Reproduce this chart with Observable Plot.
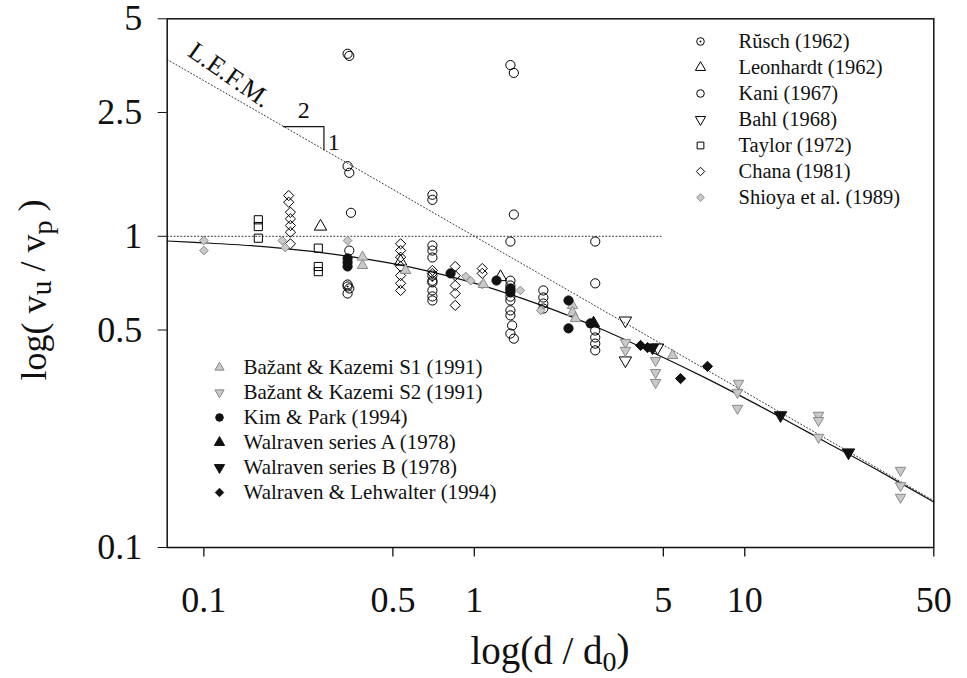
<!DOCTYPE html>
<html><head><meta charset="utf-8">
<script src="https://cdn.jsdelivr.net/npm/d3@7"></script>
<script src="https://cdn.jsdelivr.net/npm/@observablehq/plot@0.6"></script>
<style>body{margin:0;background:#fff} #chart{position:relative;width:967px;height:678px}</style>
</head><body><div id="chart"></div>
<script>
// ---------- axis ticks ----------
const xTicks = [0.1, 0.5, 1, 5, 10, 50];
const yTicks = [0.1, 0.5, 1, 2.5, 5];
const xDomain = [0.0732, 50];
const yDomain = [0.1, 5];

// ---------- size effect law (solid curve) ----------
const lawX = [0.0732, 0.1, 0.15, 0.2, 0.3, 0.5, 0.7, 1, 1.5, 2, 3, 5, 7, 10, 15, 20, 30, 50];
const lawY = [0.966, 0.953, 0.933, 0.913, 0.877, 0.817, 0.767, 0.707, 0.632, 0.577, 0.5, 0.408, 0.354, 0.302, 0.25, 0.218, 0.180, 0.140];
// L.E.F.M. asymptote (dotted) and strength asymptote (dotted)
const lefmX = [0.0732, 50];
const lefmY = [3.70, 0.1414];
const flatX = [0.0732, 5];
const flatY = [1, 1];
// slope triangle 2:1
const triX = [0.197, 0.278, 0.278];
const triY = [2.253, 2.253, 1.897];

// ---------- data series ----------
const ruschX = [0.34, 0.70];
const ruschY = [0.69, 0.72];

const leonX = [0.27, 0.534, 1.25];
const leonY = [1.075, 0.83, 0.74];

const kaniX = [0.34, 0.345, 0.34, 0.345, 0.35, 0.345, 0.34, 0.345, 0.34,
  0.70, 0.70, 0.70, 0.70, 0.70, 0.70, 0.70, 0.70, 0.70, 0.70,
  1.36, 1.40, 1.40, 1.36, 1.36, 1.36, 1.36, 1.36, 1.36, 1.36, 1.36, 1.38, 1.36, 1.40,
  1.80, 1.80, 1.80, 1.80,
  2.80, 2.80, 2.80, 2.80, 2.80, 2.80];
const kaniY = [3.86, 3.80, 1.68, 1.60, 1.19, 0.90, 0.70, 0.68, 0.655,
  1.36, 1.31, 0.934, 0.90, 0.855, 0.748, 0.711, 0.67, 0.641, 0.622,
  3.55, 3.35, 1.175, 0.962, 0.72, 0.695, 0.67, 0.64, 0.622, 0.578, 0.557, 0.517, 0.487, 0.469,
  0.67, 0.636, 0.608, 0.586,
  0.962, 0.706, 0.498, 0.473, 0.452, 0.430];

const bahlX = [3.62, 3.62, 4.76];
const bahlY = [0.536, 0.399, 0.439];

const taylorX = [0.159, 0.159, 0.159, 0.265, 0.265, 0.265];
const taylorY = [1.13, 1.075, 0.986, 0.916, 0.80, 0.77];

const chanaX = [0.206, 0.206, 0.209, 0.209, 0.209, 0.209, 0.209,
  0.534, 0.534, 0.534, 0.534, 0.534, 0.534, 0.534,
  0.70, 0.70,
  0.85, 0.85, 0.85, 0.85, 0.85,
  1.07, 1.07];
const chanaY = [1.352, 1.287, 1.195, 1.138, 1.083, 1.031, 0.946,
  0.946, 0.90, 0.857, 0.80, 0.748, 0.706, 0.67,
  0.777, 0.76,
  0.80, 0.748, 0.695, 0.655, 0.60,
  0.788, 0.76];

const shioyaX = [0.1, 0.1, 0.195, 0.20, 0.34, 0.93, 0.97, 1.07, 1.48, 1.76];
const shioyaY = [0.969, 0.90, 0.969, 0.92, 0.969, 0.743, 0.72, 0.70, 0.67, 0.578];

const bk1X = [0.386, 0.386, 0.557, 1.08, 2.307, 2.307, 2.366, 5.41];
const bk1Y = [0.857, 0.806, 0.777, 0.70, 0.599, 0.569, 0.544, 0.414];

const bk2X = [3.62, 3.62, 4.68, 4.68, 4.68, 9.48, 9.40, 9.40, 18.74, 18.74, 18.74, 37.66, 37.66, 37.66];
const bk2Y = [0.456, 0.43, 0.399, 0.365, 0.339, 0.337, 0.315, 0.28, 0.266, 0.256, 0.226, 0.177, 0.158, 0.145];

const kimX = [0.34, 0.34, 0.34, 0.817, 1.208, 1.36, 1.36, 2.23, 2.23, 2.69];
const kimY = [0.849, 0.824, 0.80, 0.76, 0.721, 0.68, 0.66, 0.622, 0.506, 0.525];

const walAX = [2.76];
const walAY = [0.525];

const walBX = [4.56, 13.56, 24.19];
const walBY = [0.439, 0.266, 0.202];

const wlX = [4.12, 4.37, 5.79, 7.28];
const wlY = [0.446, 0.439, 0.349, 0.382];

// ---------- symbols ----------
const triangleDown = {
  draw(ctx, size) {
    const s3 = Math.sqrt(3);
    const y = -Math.sqrt(size / (s3 * 3));
    ctx.moveTo(0, -y * 2);
    ctx.lineTo(-s3 * y, y);
    ctx.lineTo(s3 * y, y);
    ctx.closePath();
  }
};
const TICK_LEN = 9;
const downTick = {draw(ctx) { ctx.moveTo(0, 0); ctx.lineTo(0, TICK_LEN); }};

const GREY_F = "#c9c9c9", GREY_S = "#8a8a8a";
const series = [
  {name: "Rŭsch (1962)", xs: ruschX, ys: ruschY, symbol: "circle", fill: "none", stroke: "black", dot: true, leg: "top"},
  {name: "Leonhardt (1962)", xs: leonX, ys: leonY, symbol: "triangle", fill: "none", stroke: "black", leg: "top"},
  {name: "Kani (1967)", xs: kaniX, ys: kaniY, symbol: "circle", fill: "none", stroke: "black", leg: "top"},
  {name: "Bahl (1968)", xs: bahlX, ys: bahlY, symbol: triangleDown, fill: "none", stroke: "black", leg: "top"},
  {name: "Taylor (1972)", xs: taylorX, ys: taylorY, symbol: "square", fill: "none", stroke: "black", leg: "top"},
  {name: "Chana (1981)", xs: chanaX, ys: chanaY, symbol: "diamond2", fill: "none", stroke: "black", leg: "top"},
  {name: "Shioya et al. (1989)", xs: shioyaX, ys: shioyaY, symbol: "diamond2", fill: GREY_F, stroke: GREY_S, grey: true, leg: "top"},
  {name: "Bažant & Kazemi S1 (1991)", xs: bk1X, ys: bk1Y, symbol: "triangle", fill: GREY_F, stroke: GREY_S, grey: true, leg: "bottom"},
  {name: "Bažant & Kazemi S2 (1991)", xs: bk2X, ys: bk2Y, symbol: triangleDown, fill: GREY_F, stroke: GREY_S, grey: true, leg: "bottom"},
  {name: "Kim & Park (1994)", xs: kimX, ys: kimY, symbol: "circle", fill: "#111", stroke: "#111", leg: "bottom"},
  {name: "Walraven series A (1978)", xs: walAX, ys: walAY, symbol: "triangle", fill: "#111", stroke: "#111", leg: "bottom"},
  {name: "Walraven series B (1978)", xs: walBX, ys: walBY, symbol: triangleDown, fill: "#111", stroke: "#111", leg: "bottom"},
  {name: "Walraven & Lehwalter (1994)", xs: wlX, ys: wlY, symbol: "diamond2", fill: "#111", stroke: "#111", leg: "bottom"}
];

// ---------- layout constants ----------
const W = 967, H = 678;
const M = {left: 166.7, right: 33.7, top: 18.3, bottom: 131};
const R = 4.6, R_GREY = 3.9;
const TOP_LEG_FONT = 20.5, BOT_LEG_FONT = 21;
const TICK_FONT = 36;
const FF = "'Liberation Serif', 'Times New Roman', serif";

const marks = [];
// reference lines
marks.push(Plot.line(flatX.map((x, i) => ({x, y: flatY[i]})), {x: "x", y: "y", stroke: "#333", strokeWidth: 1, strokeDasharray: "1,2.4"}));
marks.push(Plot.line(lefmX.map((x, i) => ({x, y: lefmY[i]})), {x: "x", y: "y", stroke: "#333", strokeWidth: 1, strokeDasharray: "1,2.4"}));
marks.push(Plot.line(lawX.map((x, i) => ({x, y: lawY[i]})), {x: "x", y: "y", stroke: "#111", strokeWidth: 1.2, curve: "catmull-rom"}));
marks.push(Plot.line(triX.map((x, i) => ({x, y: triY[i]})), {x: "x", y: "y", stroke: "#111", strokeWidth: 1.2}));
// annotations
marks.push(Plot.text([{x: 0.234, y: 2.54, t: "2"}], {x: "x", y: "y", text: "t", fontSize: 24}));
marks.push(Plot.text([{x: 0.302, y: 2.0, t: "1"}], {x: "x", y: "y", text: "t", fontSize: 24}));
marks.push(Plot.text([{x: 0.1245, y: 3.30, t: "L.E.F.M."}], {x: "x", y: "y", text: "t", fontSize: 26, rotate: 35}));

// data points
for (const s of series) {
  const rows = s.xs.map((x, i) => ({x, y: s.ys[i]}));
  marks.push(Plot.dot(rows, {x: "x", y: "y", symbol: s.symbol, r: s.grey ? R_GREY : R, fill: s.fill, stroke: s.stroke, strokeWidth: 1}));
  if (s.dot) marks.push(Plot.dot(rows, {x: "x", y: "y", r: 1, fill: "black"}));
}

// legends (positioned relative to the frame's top-left corner)
const topLeg = series.filter(s => s.leg === "top");
const botLeg = series.filter(s => s.leg === "bottom");
function addLegend(list, sx, tx, y0, step, fs) {
  list.forEach((s, i) => {
    const dy = y0 + i * step;
    marks.push(Plot.dot([0], {frameAnchor: "top-left", dx: sx, dy, symbol: s.symbol, r: s.grey ? 3.4 : 3.8, fill: s.fill, stroke: s.stroke, strokeWidth: 1}));
    if (s.dot) marks.push(Plot.dot([0], {frameAnchor: "top-left", dx: sx, dy, r: 0.9, fill: "black"}));
    marks.push(Plot.text([s.name], {frameAnchor: "top-left", dx: tx, dy, text: d => d, textAnchor: "start", lineAnchor: "middle", fontSize: fs}));
  });
}
addLegend(topLeg, 700 - M.left, 738 - M.left, 41 - M.top, 26, TOP_LEG_FONT);
addLegend(botLeg, 219 - M.left, 243 - M.left, 367 - M.top, 25, BOT_LEG_FONT);

// x axis: ticks and labels through the x scale
marks.push(Plot.dot(xTicks, {x: d => d, frameAnchor: "bottom", symbol: downTick, r: 5, stroke: "#111", strokeWidth: 1.3, fill: "none"}));
marks.push(Plot.text(xTicks, {x: d => d, frameAnchor: "bottom", dy: 53, text: d => String(d), fontSize: TICK_FONT, lineAnchor: "middle"}));
// y axis
marks.push(Plot.axisY(yTicks, {tickSize: TICK_LEN, tickPadding: 16, tickFormat: d => String(d), label: null, fontSize: TICK_FONT}));
marks.push(Plot.frame({stroke: "#111", strokeWidth: 1.5}));

const chart = Plot.plot({
  width: W, height: H,
  marginLeft: M.left, marginRight: M.right, marginTop: M.top, marginBottom: M.bottom,
  style: {fontFamily: FF, fontSize: "36px", background: "white", color: "#111"},
  x: {type: "log", domain: xDomain, axis: null},
  y: {type: "log", domain: yDomain},
  marks
});
document.getElementById("chart").appendChild(chart);

// axis titles with subscripts
const svg = d3.select(chart);
const xl = svg.append("text").attr("x", 550).attr("y", 664).attr("text-anchor", "middle")
  .attr("font-family", FF).attr("font-size", 39).attr("fill", "#111");
xl.append("tspan").text("log(d / d");
xl.append("tspan").attr("dy", "0.25em").attr("font-size", 28).text("0");
xl.append("tspan").attr("dy", "-0.25em").text(")");

const yl = svg.append("text").attr("transform", "translate(46,290) rotate(-90)").attr("text-anchor", "middle")
  .attr("font-family", FF).attr("font-size", 36).attr("fill", "#111");
yl.append("tspan").text("log( v");
yl.append("tspan").attr("dy", "0.15em").attr("font-size", 30).text("u");
yl.append("tspan").attr("dy", "-0.15em").text(" / v");
yl.append("tspan").attr("dy", "0.25em").attr("font-size", 28).text("p");
yl.append("tspan").attr("dy", "-0.25em").text(" )");
</script></body></html>
